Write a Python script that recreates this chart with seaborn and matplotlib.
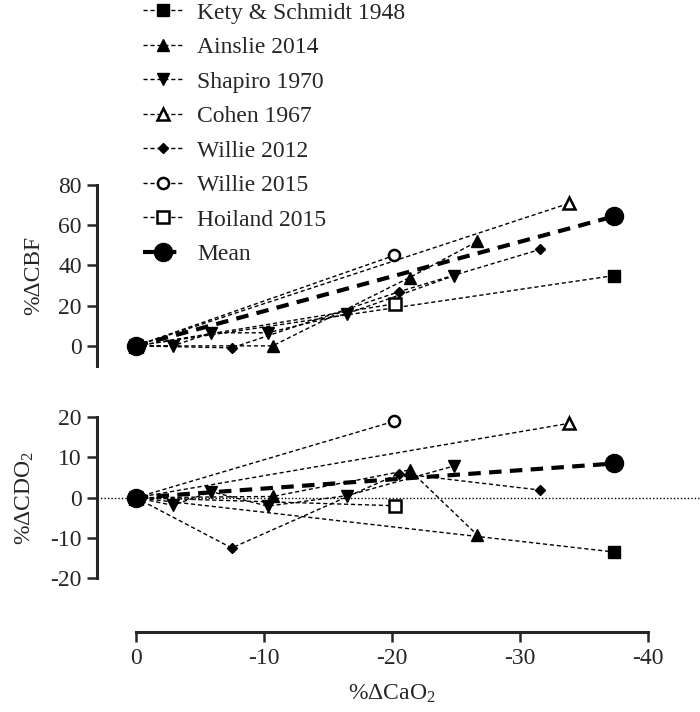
import matplotlib
matplotlib.use("Agg")
import matplotlib.pyplot as plt
import seaborn as sns

# studies, x = %dCaO2, top = %dCBF, bottom = %dCDO2
studies = ["Kety & Schmidt 1948", "Ainslie 2014", "Shapiro 1970", "Cohen 1967",
           "Willie 2012", "Willie 2015", "Hoiland 2015", "Mean"]

kety_x = [0, -37.4]
kety_cbf = [0, 35]
kety_cdo2 = [0, -13.5]

ainslie_x = [0, -10.7, -21.4, -26.7]
ainslie_cbf = [0, 0, 34, 52]
ainslie_cdo2 = [0, 0.3, 6.9, -9.3]

shapiro_x = [0, -2.9, -5.9, -10.3, -16.5, -24.9]
shapiro_cbf = [0, 0, 6.5, 6.5, 16, 35]
shapiro_cdo2 = [0, -1.9, 1.5, -2.1, 0.5, 7.9]

cohen_x = [0, -33.9]
cohen_cbf = [0, 71]
cohen_cdo2 = [0, 18.5]

willie12_x = [0, -7.5, -20.6, -31.6]
willie12_cbf = [0, -1, 27, 48]
willie12_cdo2 = [0, -12.5, 6, 1.9]

willie15_x = [0, -20.2]
willie15_cbf = [0, 45]
willie15_cdo2 = [0, 19]

hoiland_x = [0, -20.3]
hoiland_cbf = [0, 21]
hoiland_cdo2 = [0, -2]

mean_x = [0, -37.4]
mean_cbf = [0, 64.5]
mean_cdo2 = [0, 8.5]

xs = [kety_x, ainslie_x, shapiro_x, cohen_x, willie12_x, willie15_x, hoiland_x, mean_x]
cbf = [kety_cbf, ainslie_cbf, shapiro_cbf, cohen_cbf, willie12_cbf, willie15_cbf, hoiland_cbf, mean_cbf]
cdo2 = [kety_cdo2, ainslie_cdo2, shapiro_cdo2, cohen_cdo2, willie12_cdo2, willie15_cdo2, hoiland_cdo2, mean_cdo2]

# marker style per study: (marker, size, facecolor)
styles = [("s", 8, "black"), ("^", 8, "black"), ("v", 8, "black"), ("^", 8, "white"),
          ("D", 5.5, "black"), ("o", 8, "white"), ("s", 8, "white"), ("o", 13, "black")]

sns.set_style("ticks")
plt.rcParams["font.family"] = ["Liberation Serif", "DejaVu Serif"]
plt.rcParams["mathtext.fontset"] = "custom"
plt.rcParams["mathtext.rm"] = "Liberation Serif"
plt.rcParams["mathtext.it"] = "Liberation Serif:italic"

fig = plt.figure(figsize=(7, 7.12), dpi=100)
ax1 = fig.add_axes([0.194, 0.486, 0.731, 0.254])
ax2 = fig.add_axes([0.194, 0.188, 0.731, 0.226])


def draw(ax, ys):
    for name, x, y, (m, ms, fc) in zip(studies, xs, ys, styles):
        is_mean = name == "Mean"
        sns.lineplot(x=x, y=y, ax=ax, color="black", estimator=None, sort=False,
                     marker=m, markersize=ms, markerfacecolor=fc,
                     markeredgecolor="black", markeredgewidth=1.8 if fc == "white" else 1,
                     linewidth=3 if is_mean else 1,
                     linestyle=(0, (3, 2)),
                     zorder=5 if is_mean else 3, clip_on=False, label=name)


draw(ax1, cbf)
draw(ax2, cdo2)

# dotted zero reference line in lower panel
ax2.plot([-0.076, 1.1], [0, 0], transform=ax2.get_yaxis_transform(), color="black",
         linewidth=1, linestyle=(0, (1, 1.5)), clip_on=False, zorder=1)

for ax in (ax1, ax2):
    ax.set_xlim(0, -40)
    ax.spines["top"].set_visible(False)
    ax.spines["right"].set_visible(False)
    ax.spines["left"].set_position(("outward", 28))
    ax.spines["left"].set_linewidth(2.2)
    ax.tick_params(axis="both", direction="out", length=7.5, width=1.8, labelsize=17)
    if ax.get_legend():
        ax.get_legend().remove()

ax1.set_ylim(-10, 80)
ax1.set_yticks([0, 20, 40, 60, 80])
ax1.spines["bottom"].set_visible(False)
ax1.tick_params(axis="x", bottom=False, labelbottom=False)
ax1.set_ylabel("%ΔCBF", fontsize=17, labelpad=10)

ax2.set_ylim(-20, 20)
ax2.set_yticks([-20, -10, 0, 10, 20])
ax2.set_yticklabels(["-20", "-10", "0", "10", "20"])
ax2.spines["bottom"].set_position(("outward", 39))
ax2.spines["bottom"].set_linewidth(2.2)
ax2.set_xticks([0, -10, -20, -30, -40])
ax2.set_xticklabels(["0", "-10", "-20", "-30", "-40"])
ax2.set_xlabel("%ΔCaO$_2$", fontsize=17, labelpad=10)
ax2.set_ylabel("%ΔCDO$_2$", fontsize=17, labelpad=10)

handles, labels = ax1.get_legend_handles_labels()
fig.legend(handles[:len(studies)], labels[:len(studies)], loc="upper left",
           bbox_to_anchor=(0.204, 0.997), frameon=False, fontsize=17,
           handlelength=1.7, handletextpad=0.6, labelspacing=0.55,
           borderpad=0, borderaxespad=0)

fig.savefig("out.png", dpi=100)
